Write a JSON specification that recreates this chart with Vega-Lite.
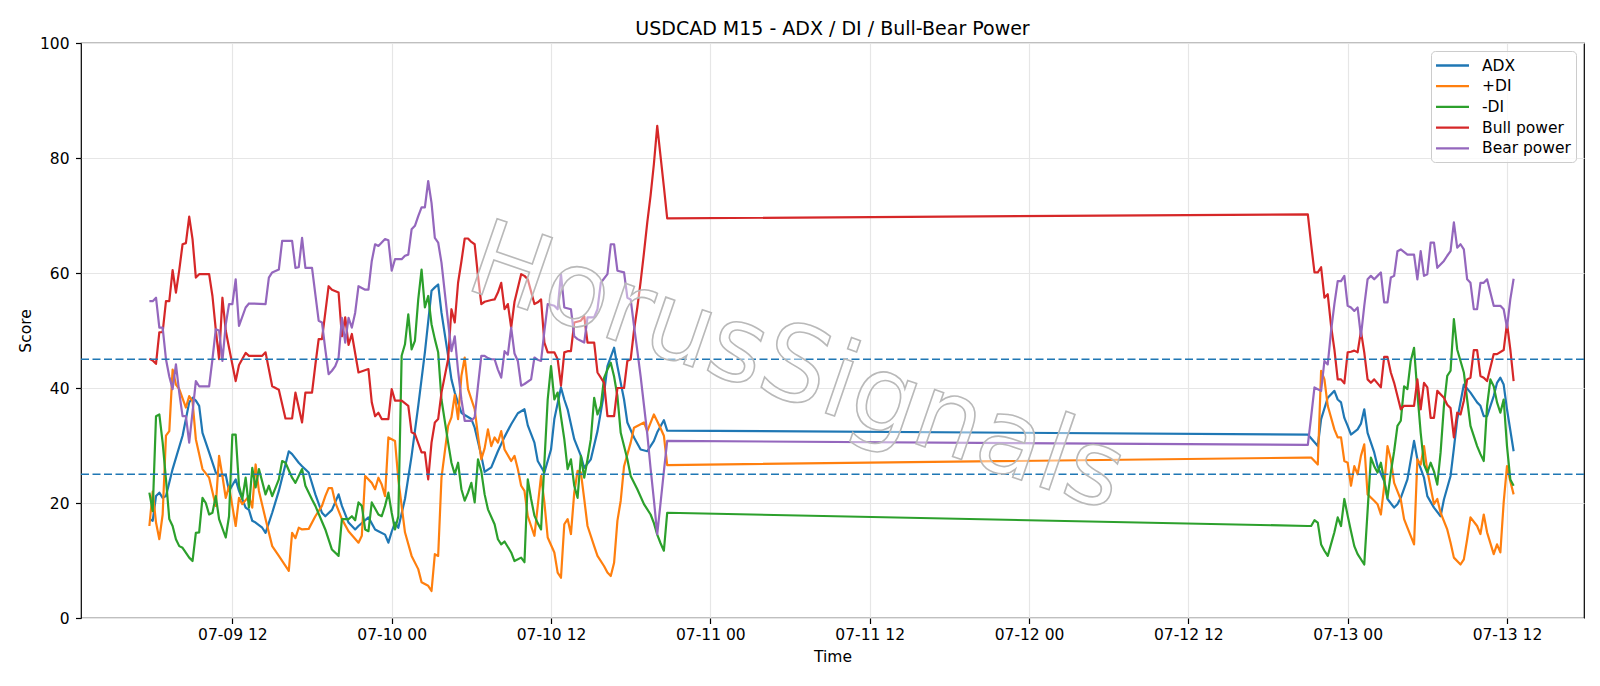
{
"$schema": "https://vega.github.io/schema/vega-lite/v6.json",
"width": 1503,
"height": 575,
"autosize": {"type": "none"},
"padding": {"left": 81, "top": 43, "right": 16, "bottom": 68},
"title": {"text": "USDCAD M15 - ADX / DI / Bull-Bear Power", "fontSize": 19, "font": "DejaVu Sans", "fontWeight": "normal", "color": "#000000", "anchor": "middle", "frame": "group", "baseline": "alphabetic", "offset": -18},
"config": {
  "font": "DejaVu Sans",
  "view": {"stroke": "#000000", "strokeWidth": 1.2},
  "axis": {"labelFont": "DejaVu Sans", "labelFontSize": 15.5, "labelColor": "#000000", "titleFont": "DejaVu Sans", "titleFontSize": 15.5, "titleFontWeight": "normal", "titleColor": "#000000", "tickColor": "#000000", "tickSize": 5.5, "tickWidth": 1.2, "domain": false, "gridColor": "#e6e6e6", "gridWidth": 1.2, "labelFlush": false, "labelOverlap": false},
  "legend": {"labelFont": "DejaVu Sans", "labelFontSize": 15.5, "labelColor": "#000000"}
},
"layer": [
  {
    "data": {"values": [
{"s":"ADX","t":"2025-07-09 05:45","v":17.2},{"s":"ADX","t":"2025-07-09 06:00","v":16.9},{"s":"ADX","t":"2025-07-09 06:15","v":21.2},{"s":"ADX","t":"2025-07-09 06:30","v":21.8},{"s":"ADX","t":"2025-07-09 06:45","v":20.9},{"s":"ADX","t":"2025-07-09 07:00","v":21.2},{"s":"ADX","t":"2025-07-09 07:30","v":25.9},{"s":"ADX","t":"2025-07-09 08:15","v":31.7},{"s":"ADX","t":"2025-07-09 08:45","v":37.5},{"s":"ADX","t":"2025-07-09 09:00","v":38.3},{"s":"ADX","t":"2025-07-09 09:15","v":37.8},{"s":"ADX","t":"2025-07-09 09:30","v":36.9},{"s":"ADX","t":"2025-07-09 09:45","v":32.2},{"s":"ADX","t":"2025-07-09 10:15","v":28.8},{"s":"ADX","t":"2025-07-09 10:45","v":25.3},{"s":"ADX","t":"2025-07-09 11:00","v":24.7},{"s":"ADX","t":"2025-07-09 11:30","v":24.9},{"s":"ADX","t":"2025-07-09 11:45","v":22.1},{"s":"ADX","t":"2025-07-09 12:15","v":24.1},{"s":"ADX","t":"2025-07-09 12:30","v":22.1},{"s":"ADX","t":"2025-07-09 13:00","v":19.2},{"s":"ADX","t":"2025-07-09 13:15","v":18.8},{"s":"ADX","t":"2025-07-09 13:30","v":16.9},{"s":"ADX","t":"2025-07-09 13:45","v":16.6},{"s":"ADX","t":"2025-07-09 14:15","v":15.7},{"s":"ADX","t":"2025-07-09 14:30","v":14.8},{"s":"ADX","t":"2025-07-09 15:00","v":18.3},{"s":"ADX","t":"2025-07-09 15:30","v":22.1},{"s":"ADX","t":"2025-07-09 16:15","v":29},{"s":"ADX","t":"2025-07-09 16:30","v":28.5},{"s":"ADX","t":"2025-07-09 17:00","v":27},{"s":"ADX","t":"2025-07-09 17:15","v":26.4},{"s":"ADX","t":"2025-07-09 17:45","v":25.3},{"s":"ADX","t":"2025-07-09 18:15","v":21.5},{"s":"ADX","t":"2025-07-09 18:45","v":18.3},{"s":"ADX","t":"2025-07-09 19:00","v":17.7},{"s":"ADX","t":"2025-07-09 19:30","v":18.8},{"s":"ADX","t":"2025-07-09 20:00","v":21.5},{"s":"ADX","t":"2025-07-09 20:15","v":19.5},{"s":"ADX","t":"2025-07-09 20:45","v":16.6},{"s":"ADX","t":"2025-07-09 21:15","v":15.4},{"s":"ADX","t":"2025-07-09 21:30","v":16},{"s":"ADX","t":"2025-07-09 22:15","v":17.5},{"s":"ADX","t":"2025-07-09 22:45","v":15.4},{"s":"ADX","t":"2025-07-09 23:00","v":15.1},{"s":"ADX","t":"2025-07-09 23:30","v":14.5},{"s":"ADX","t":"2025-07-09 23:45","v":13.1},
{"s":"ADX","t":"2025-07-10 00:00","v":15},{"s":"ADX","t":"2025-07-10 00:15","v":16.6},{"s":"ADX","t":"2025-07-10 00:30","v":15.7},{"s":"ADX","t":"2025-07-10 01:00","v":20.7},{"s":"ADX","t":"2025-07-10 01:30","v":28.2},{"s":"ADX","t":"2025-07-10 02:00","v":36.9},{"s":"ADX","t":"2025-07-10 02:30","v":46.2},{"s":"ADX","t":"2025-07-10 03:00","v":56.9},{"s":"ADX","t":"2025-07-10 03:15","v":57.5},{"s":"ADX","t":"2025-07-10 03:30","v":58},{"s":"ADX","t":"2025-07-10 03:45","v":53.1},{"s":"ADX","t":"2025-07-10 04:15","v":45.6},{"s":"ADX","t":"2025-07-10 04:30","v":41.5},{"s":"ADX","t":"2025-07-10 04:45","v":39.2},{"s":"ADX","t":"2025-07-10 05:15","v":35.7},{"s":"ADX","t":"2025-07-10 05:30","v":35.3},{"s":"ADX","t":"2025-07-10 06:00","v":34.6},{"s":"ADX","t":"2025-07-10 06:15","v":33.1},{"s":"ADX","t":"2025-07-10 06:45","v":28.2},{"s":"ADX","t":"2025-07-10 07:00","v":25.4},{"s":"ADX","t":"2025-07-10 07:30","v":26.2},{"s":"ADX","t":"2025-07-10 08:00","v":29},{"s":"ADX","t":"2025-07-10 08:30","v":31.5},{"s":"ADX","t":"2025-07-10 09:00","v":33.7},{"s":"ADX","t":"2025-07-10 09:30","v":35.6},{"s":"ADX","t":"2025-07-10 10:00","v":36.3},{"s":"ADX","t":"2025-07-10 10:15","v":33.5},{"s":"ADX","t":"2025-07-10 10:45","v":30.5},{"s":"ADX","t":"2025-07-10 11:00","v":27.3},{"s":"ADX","t":"2025-07-10 11:30","v":25.3},{"s":"ADX","t":"2025-07-10 12:00","v":29.3},{"s":"ADX","t":"2025-07-10 12:15","v":34.6},{"s":"ADX","t":"2025-07-10 12:45","v":40.1},{"s":"ADX","t":"2025-07-10 13:00","v":38},{"s":"ADX","t":"2025-07-10 13:15","v":36.3},{"s":"ADX","t":"2025-07-10 13:45","v":31.1},{"s":"ADX","t":"2025-07-10 14:15","v":28.2},{"s":"ADX","t":"2025-07-10 14:30","v":26.1},{"s":"ADX","t":"2025-07-10 15:00","v":27.6},{"s":"ADX","t":"2025-07-10 15:30","v":32.5},{"s":"ADX","t":"2025-07-10 16:00","v":39.2},{"s":"ADX","t":"2025-07-10 16:15","v":43.8},{"s":"ADX","t":"2025-07-10 16:45","v":47},{"s":"ADX","t":"2025-07-10 17:00","v":43.8},{"s":"ADX","t":"2025-07-10 17:30","v":38},{"s":"ADX","t":"2025-07-10 17:45","v":34},{"s":"ADX","t":"2025-07-10 18:15","v":31.4},{"s":"ADX","t":"2025-07-10 18:45","v":29.3},{"s":"ADX","t":"2025-07-10 19:15","v":29},{"s":"ADX","t":"2025-07-10 19:45","v":30.8},{"s":"ADX","t":"2025-07-10 20:00","v":32.3},{"s":"ADX","t":"2025-07-10 20:30","v":34.4},{"s":"ADX","t":"2025-07-10 20:45","v":32.6},
{"s":"ADX","t":"2025-07-12 21:00","v":31.9},{"s":"ADX","t":"2025-07-12 21:45","v":29.9},{"s":"ADX","t":"2025-07-12 22:00","v":34.6},{"s":"ADX","t":"2025-07-12 22:30","v":38.3},{"s":"ADX","t":"2025-07-12 23:00","v":39.5},{"s":"ADX","t":"2025-07-12 23:15","v":38},{"s":"ADX","t":"2025-07-12 23:30","v":37.5},{"s":"ADX","t":"2025-07-12 23:45","v":34.8},{"s":"ADX","t":"2025-07-13 00:00","v":33.4},{"s":"ADX","t":"2025-07-13 00:15","v":31.9},{"s":"ADX","t":"2025-07-13 00:45","v":32.8},{"s":"ADX","t":"2025-07-13 01:00","v":33.8},{"s":"ADX","t":"2025-07-13 01:15","v":36.3},{"s":"ADX","t":"2025-07-13 01:30","v":32.2},{"s":"ADX","t":"2025-07-13 02:00","v":28.8},{"s":"ADX","t":"2025-07-13 02:15","v":26.4},{"s":"ADX","t":"2025-07-13 02:45","v":23.8},{"s":"ADX","t":"2025-07-13 03:00","v":20.7},{"s":"ADX","t":"2025-07-13 03:30","v":19.2},{"s":"ADX","t":"2025-07-13 03:45","v":19.8},{"s":"ADX","t":"2025-07-13 04:00","v":20.9},{"s":"ADX","t":"2025-07-13 04:30","v":24.1},{"s":"ADX","t":"2025-07-13 05:00","v":30.8},{"s":"ADX","t":"2025-07-13 05:15","v":27.6},{"s":"ADX","t":"2025-07-13 05:45","v":24.4},{"s":"ADX","t":"2025-07-13 06:00","v":21.2},{"s":"ADX","t":"2025-07-13 06:30","v":19.2},{"s":"ADX","t":"2025-07-13 07:00","v":17.7},{"s":"ADX","t":"2025-07-13 07:15","v":20.6},{"s":"ADX","t":"2025-07-13 07:45","v":24.7},{"s":"ADX","t":"2025-07-13 08:00","v":29.5},{"s":"ADX","t":"2025-07-13 08:15","v":34.5},{"s":"ADX","t":"2025-07-13 08:45","v":40.6},{"s":"ADX","t":"2025-07-13 09:15","v":39.2},{"s":"ADX","t":"2025-07-13 09:45","v":37.5},{"s":"ADX","t":"2025-07-13 10:00","v":36.9},{"s":"ADX","t":"2025-07-13 10:15","v":35.1},{"s":"ADX","t":"2025-07-13 10:30","v":35.1},{"s":"ADX","t":"2025-07-13 11:00","v":38.6},{"s":"ADX","t":"2025-07-13 11:15","v":40.9},{"s":"ADX","t":"2025-07-13 11:30","v":41.8},{"s":"ADX","t":"2025-07-13 11:45","v":40.6},{"s":"ADX","t":"2025-07-13 12:00","v":36.3},{"s":"ADX","t":"2025-07-13 12:30","v":29},
{"s":"+DI","t":"2025-07-09 05:45","v":16},{"s":"+DI","t":"2025-07-09 06:00","v":22},{"s":"+DI","t":"2025-07-09 06:15","v":16.6},{"s":"+DI","t":"2025-07-09 06:30","v":13.7},{"s":"+DI","t":"2025-07-09 06:45","v":18},{"s":"+DI","t":"2025-07-09 07:00","v":31.7},{"s":"+DI","t":"2025-07-09 07:15","v":32.5},{"s":"+DI","t":"2025-07-09 07:30","v":43.2},{"s":"+DI","t":"2025-07-09 07:45","v":40.6},{"s":"+DI","t":"2025-07-09 08:00","v":39.8},{"s":"+DI","t":"2025-07-09 08:30","v":36.6},{"s":"+DI","t":"2025-07-09 08:45","v":38.6},{"s":"+DI","t":"2025-07-09 09:00","v":37.7},{"s":"+DI","t":"2025-07-09 09:15","v":31.1},{"s":"+DI","t":"2025-07-09 09:45","v":25.9},{"s":"+DI","t":"2025-07-09 10:15","v":24.4},{"s":"+DI","t":"2025-07-09 10:45","v":19.5},{"s":"+DI","t":"2025-07-09 11:00","v":28.2},{"s":"+DI","t":"2025-07-09 11:15","v":24.7},{"s":"+DI","t":"2025-07-09 11:30","v":20.9},{"s":"+DI","t":"2025-07-09 11:45","v":22.9},{"s":"+DI","t":"2025-07-09 12:15","v":16},{"s":"+DI","t":"2025-07-09 12:30","v":20.9},{"s":"+DI","t":"2025-07-09 12:45","v":19.8},{"s":"+DI","t":"2025-07-09 13:15","v":21.2},{"s":"+DI","t":"2025-07-09 13:30","v":19.2},{"s":"+DI","t":"2025-07-09 13:45","v":26.7},{"s":"+DI","t":"2025-07-09 14:00","v":22.1},{"s":"+DI","t":"2025-07-09 14:30","v":17.2},{"s":"+DI","t":"2025-07-09 15:00","v":12.5},{"s":"+DI","t":"2025-07-09 15:30","v":10.8},{"s":"+DI","t":"2025-07-09 16:15","v":8.2},{"s":"+DI","t":"2025-07-09 16:30","v":14.8},{"s":"+DI","t":"2025-07-09 16:45","v":13.9},{"s":"+DI","t":"2025-07-09 17:00","v":15.7},{"s":"+DI","t":"2025-07-09 17:15","v":15.4},{"s":"+DI","t":"2025-07-09 17:45","v":15.5},{"s":"+DI","t":"2025-07-09 18:15","v":17.7},{"s":"+DI","t":"2025-07-09 18:45","v":19.5},{"s":"+DI","t":"2025-07-09 19:00","v":21.2},{"s":"+DI","t":"2025-07-09 19:15","v":22.6},{"s":"+DI","t":"2025-07-09 19:30","v":22.6},{"s":"+DI","t":"2025-07-09 19:45","v":20.1},{"s":"+DI","t":"2025-07-09 20:15","v":17.2},{"s":"+DI","t":"2025-07-09 20:45","v":15.1},{"s":"+DI","t":"2025-07-09 21:30","v":13.1},{"s":"+DI","t":"2025-07-09 21:45","v":14.3},{"s":"+DI","t":"2025-07-09 22:00","v":24.7},{"s":"+DI","t":"2025-07-09 22:30","v":23.5},{"s":"+DI","t":"2025-07-09 22:45","v":22.4},{"s":"+DI","t":"2025-07-09 23:00","v":24.4},{"s":"+DI","t":"2025-07-09 23:15","v":23.2},{"s":"+DI","t":"2025-07-09 23:30","v":21.2},{"s":"+DI","t":"2025-07-09 23:45","v":31.4},
{"s":"+DI","t":"2025-07-10 00:15","v":30.8},{"s":"+DI","t":"2025-07-10 00:30","v":24.1},{"s":"+DI","t":"2025-07-10 01:00","v":14.9},{"s":"+DI","t":"2025-07-10 01:30","v":10.8},{"s":"+DI","t":"2025-07-10 02:00","v":8.5},{"s":"+DI","t":"2025-07-10 02:15","v":6.2},{"s":"+DI","t":"2025-07-10 02:45","v":5.6},{"s":"+DI","t":"2025-07-10 03:00","v":4.7},{"s":"+DI","t":"2025-07-10 03:15","v":11.1},{"s":"+DI","t":"2025-07-10 03:30","v":10.8},{"s":"+DI","t":"2025-07-10 03:45","v":24.4},{"s":"+DI","t":"2025-07-10 04:15","v":33.4},{"s":"+DI","t":"2025-07-10 04:30","v":34.9},{"s":"+DI","t":"2025-07-10 04:45","v":38.8},{"s":"+DI","t":"2025-07-10 05:00","v":34.6},{"s":"+DI","t":"2025-07-10 05:15","v":42.1},{"s":"+DI","t":"2025-07-10 05:30","v":45.3},{"s":"+DI","t":"2025-07-10 05:45","v":39.8},{"s":"+DI","t":"2025-07-10 06:15","v":36.3},{"s":"+DI","t":"2025-07-10 06:30","v":31.7},{"s":"+DI","t":"2025-07-10 06:45","v":27.6},{"s":"+DI","t":"2025-07-10 07:00","v":29.5},{"s":"+DI","t":"2025-07-10 07:15","v":32.8},{"s":"+DI","t":"2025-07-10 07:30","v":29.9},{"s":"+DI","t":"2025-07-10 07:45","v":31.4},{"s":"+DI","t":"2025-07-10 08:00","v":30.5},{"s":"+DI","t":"2025-07-10 08:15","v":32.5},{"s":"+DI","t":"2025-07-10 08:30","v":29.3},{"s":"+DI","t":"2025-07-10 09:00","v":27.3},{"s":"+DI","t":"2025-07-10 09:15","v":28.2},{"s":"+DI","t":"2025-07-10 09:30","v":25.9},{"s":"+DI","t":"2025-07-10 09:45","v":23},{"s":"+DI","t":"2025-07-10 10:00","v":22.1},{"s":"+DI","t":"2025-07-10 10:15","v":17.7},{"s":"+DI","t":"2025-07-10 10:30","v":16},{"s":"+DI","t":"2025-07-10 10:45","v":14.3},{"s":"+DI","t":"2025-07-10 11:00","v":19.5},{"s":"+DI","t":"2025-07-10 11:15","v":24.7},{"s":"+DI","t":"2025-07-10 11:30","v":20.1},{"s":"+DI","t":"2025-07-10 11:45","v":14},{"s":"+DI","t":"2025-07-10 12:15","v":11.4},{"s":"+DI","t":"2025-07-10 12:30","v":7.9},{"s":"+DI","t":"2025-07-10 12:45","v":7},{"s":"+DI","t":"2025-07-10 13:00","v":16.3},{"s":"+DI","t":"2025-07-10 13:15","v":17.2},{"s":"+DI","t":"2025-07-10 13:30","v":14.6},{"s":"+DI","t":"2025-07-10 13:45","v":21.8},{"s":"+DI","t":"2025-07-10 14:00","v":25.6},{"s":"+DI","t":"2025-07-10 14:15","v":25.3},{"s":"+DI","t":"2025-07-10 14:30","v":20.7},{"s":"+DI","t":"2025-07-10 14:45","v":16},{"s":"+DI","t":"2025-07-10 15:15","v":12.5},{"s":"+DI","t":"2025-07-10 15:30","v":10.8},{"s":"+DI","t":"2025-07-10 16:00","v":9},{"s":"+DI","t":"2025-07-10 16:15","v":7.9},{"s":"+DI","t":"2025-07-10 16:30","v":7.3},{"s":"+DI","t":"2025-07-10 16:45","v":9.6},{"s":"+DI","t":"2025-07-10 17:00","v":16.9},{"s":"+DI","t":"2025-07-10 17:15","v":20.4},{"s":"+DI","t":"2025-07-10 17:30","v":26.4},{"s":"+DI","t":"2025-07-10 18:00","v":30.5},{"s":"+DI","t":"2025-07-10 18:15","v":33.1},{"s":"+DI","t":"2025-07-10 18:45","v":33.7},{"s":"+DI","t":"2025-07-10 19:00","v":34},{"s":"+DI","t":"2025-07-10 19:15","v":32.5},{"s":"+DI","t":"2025-07-10 19:45","v":35.4},{"s":"+DI","t":"2025-07-10 20:00","v":34.2},{"s":"+DI","t":"2025-07-10 20:15","v":33},{"s":"+DI","t":"2025-07-10 20:30","v":31.7},{"s":"+DI","t":"2025-07-10 20:45","v":26.6},
{"s":"+DI","t":"2025-07-12 21:00","v":27.9},{"s":"+DI","t":"2025-07-12 21:15","v":27.9},{"s":"+DI","t":"2025-07-12 21:45","v":26.7},{"s":"+DI","t":"2025-07-12 22:00","v":43},{"s":"+DI","t":"2025-07-12 22:15","v":41.5},{"s":"+DI","t":"2025-07-12 22:30","v":36.9},{"s":"+DI","t":"2025-07-12 23:00","v":32.8},{"s":"+DI","t":"2025-07-12 23:15","v":31.4},{"s":"+DI","t":"2025-07-12 23:30","v":31.4},{"s":"+DI","t":"2025-07-12 23:45","v":27.3},{"s":"+DI","t":"2025-07-13 00:00","v":27},{"s":"+DI","t":"2025-07-13 00:15","v":23},{"s":"+DI","t":"2025-07-13 00:30","v":26.4},{"s":"+DI","t":"2025-07-13 00:45","v":25},{"s":"+DI","t":"2025-07-13 01:00","v":28.2},{"s":"+DI","t":"2025-07-13 01:15","v":30.2},{"s":"+DI","t":"2025-07-13 01:30","v":21.5},{"s":"+DI","t":"2025-07-13 02:00","v":20.4},{"s":"+DI","t":"2025-07-13 02:15","v":19.8},{"s":"+DI","t":"2025-07-13 02:30","v":18},{"s":"+DI","t":"2025-07-13 02:45","v":22.9},{"s":"+DI","t":"2025-07-13 03:00","v":29.9},{"s":"+DI","t":"2025-07-13 03:15","v":27.6},{"s":"+DI","t":"2025-07-13 03:30","v":23.5},{"s":"+DI","t":"2025-07-13 04:00","v":20.6},{"s":"+DI","t":"2025-07-13 04:15","v":17.2},{"s":"+DI","t":"2025-07-13 04:30","v":15.7},{"s":"+DI","t":"2025-07-13 05:00","v":12.8},{"s":"+DI","t":"2025-07-13 05:15","v":27.6},{"s":"+DI","t":"2025-07-13 05:30","v":26.7},{"s":"+DI","t":"2025-07-13 05:45","v":29.9},{"s":"+DI","t":"2025-07-13 06:00","v":25.6},{"s":"+DI","t":"2025-07-13 06:15","v":22.7},{"s":"+DI","t":"2025-07-13 06:30","v":19.8},{"s":"+DI","t":"2025-07-13 06:45","v":20.7},{"s":"+DI","t":"2025-07-13 07:00","v":18.3},{"s":"+DI","t":"2025-07-13 07:30","v":15.4},{"s":"+DI","t":"2025-07-13 07:45","v":13.1},{"s":"+DI","t":"2025-07-13 08:00","v":10.5},{"s":"+DI","t":"2025-07-13 08:30","v":9.3},{"s":"+DI","t":"2025-07-13 08:45","v":10.2},{"s":"+DI","t":"2025-07-13 09:00","v":13.7},{"s":"+DI","t":"2025-07-13 09:15","v":17.5},{"s":"+DI","t":"2025-07-13 09:45","v":16},{"s":"+DI","t":"2025-07-13 10:00","v":14.6},{"s":"+DI","t":"2025-07-13 10:15","v":18},{"s":"+DI","t":"2025-07-13 10:30","v":14.9},{"s":"+DI","t":"2025-07-13 11:00","v":11.1},{"s":"+DI","t":"2025-07-13 11:15","v":12.8},{"s":"+DI","t":"2025-07-13 11:30","v":11.4},{"s":"+DI","t":"2025-07-13 11:45","v":20.1},{"s":"+DI","t":"2025-07-13 12:00","v":26.4},{"s":"+DI","t":"2025-07-13 12:15","v":23.8},{"s":"+DI","t":"2025-07-13 12:30","v":21.5},
{"s":"-DI","t":"2025-07-09 05:45","v":21.8},{"s":"-DI","t":"2025-07-09 06:00","v":18.6},{"s":"-DI","t":"2025-07-09 06:15","v":35.1},{"s":"-DI","t":"2025-07-09 06:30","v":35.4},{"s":"-DI","t":"2025-07-09 06:45","v":30.5},{"s":"-DI","t":"2025-07-09 07:00","v":24.1},{"s":"-DI","t":"2025-07-09 07:15","v":17.2},{"s":"-DI","t":"2025-07-09 07:30","v":16},{"s":"-DI","t":"2025-07-09 07:45","v":13.7},{"s":"-DI","t":"2025-07-09 08:00","v":12.5},{"s":"-DI","t":"2025-07-09 08:15","v":12.2},{"s":"-DI","t":"2025-07-09 08:45","v":10.5},{"s":"-DI","t":"2025-07-09 09:00","v":9.9},{"s":"-DI","t":"2025-07-09 09:15","v":14.8},{"s":"-DI","t":"2025-07-09 09:30","v":14.9},{"s":"-DI","t":"2025-07-09 09:45","v":20.9},{"s":"-DI","t":"2025-07-09 10:00","v":20},{"s":"-DI","t":"2025-07-09 10:15","v":18},{"s":"-DI","t":"2025-07-09 10:30","v":18.3},{"s":"-DI","t":"2025-07-09 10:45","v":21.2},{"s":"-DI","t":"2025-07-09 11:00","v":17.2},{"s":"-DI","t":"2025-07-09 11:30","v":14},{"s":"-DI","t":"2025-07-09 11:45","v":17.7},{"s":"-DI","t":"2025-07-09 12:00","v":31.9},{"s":"-DI","t":"2025-07-09 12:15","v":31.9},{"s":"-DI","t":"2025-07-09 12:30","v":23},{"s":"-DI","t":"2025-07-09 12:45","v":20.7},{"s":"-DI","t":"2025-07-09 13:00","v":24.4},{"s":"-DI","t":"2025-07-09 13:15","v":19.2},{"s":"-DI","t":"2025-07-09 13:30","v":26.1},{"s":"-DI","t":"2025-07-09 13:45","v":22.7},{"s":"-DI","t":"2025-07-09 14:00","v":25.9},{"s":"-DI","t":"2025-07-09 14:30","v":21.5},{"s":"-DI","t":"2025-07-09 14:45","v":23},{"s":"-DI","t":"2025-07-09 15:00","v":21.2},{"s":"-DI","t":"2025-07-09 15:30","v":24.1},{"s":"-DI","t":"2025-07-09 15:45","v":27.3},{"s":"-DI","t":"2025-07-09 16:00","v":27},{"s":"-DI","t":"2025-07-09 16:30","v":24.4},{"s":"-DI","t":"2025-07-09 16:45","v":23.5},{"s":"-DI","t":"2025-07-09 17:15","v":25.9},{"s":"-DI","t":"2025-07-09 17:30","v":23},{"s":"-DI","t":"2025-07-09 18:00","v":20.6},{"s":"-DI","t":"2025-07-09 18:15","v":19.5},{"s":"-DI","t":"2025-07-09 19:00","v":15.4},{"s":"-DI","t":"2025-07-09 19:30","v":11.9},{"s":"-DI","t":"2025-07-09 20:00","v":10.8},{"s":"-DI","t":"2025-07-09 20:15","v":17.2},{"s":"-DI","t":"2025-07-09 20:45","v":17.2},{"s":"-DI","t":"2025-07-09 21:00","v":17.7},{"s":"-DI","t":"2025-07-09 21:15","v":17},{"s":"-DI","t":"2025-07-09 21:30","v":20.1},{"s":"-DI","t":"2025-07-09 21:45","v":19.5},{"s":"-DI","t":"2025-07-09 22:00","v":15.4},{"s":"-DI","t":"2025-07-09 22:15","v":15.1},{"s":"-DI","t":"2025-07-09 22:30","v":20.1},{"s":"-DI","t":"2025-07-09 23:00","v":18},{"s":"-DI","t":"2025-07-09 23:15","v":17.7},{"s":"-DI","t":"2025-07-09 23:30","v":19.5},{"s":"-DI","t":"2025-07-09 23:45","v":21.8},
{"s":"-DI","t":"2025-07-10 00:00","v":18.3},{"s":"-DI","t":"2025-07-10 00:15","v":15.4},{"s":"-DI","t":"2025-07-10 00:30","v":17.7},{"s":"-DI","t":"2025-07-10 00:45","v":45.6},{"s":"-DI","t":"2025-07-10 01:00","v":47.6},{"s":"-DI","t":"2025-07-10 01:15","v":52.8},{"s":"-DI","t":"2025-07-10 01:30","v":46.7},{"s":"-DI","t":"2025-07-10 01:45","v":48.2},{"s":"-DI","t":"2025-07-10 02:00","v":55.4},{"s":"-DI","t":"2025-07-10 02:15","v":60.6},{"s":"-DI","t":"2025-07-10 02:30","v":54},{"s":"-DI","t":"2025-07-10 02:45","v":56},{"s":"-DI","t":"2025-07-10 03:00","v":51.1},{"s":"-DI","t":"2025-07-10 03:15","v":48.5},{"s":"-DI","t":"2025-07-10 03:30","v":46.2},{"s":"-DI","t":"2025-07-10 03:45","v":38},{"s":"-DI","t":"2025-07-10 04:15","v":30.5},{"s":"-DI","t":"2025-07-10 04:30","v":27},{"s":"-DI","t":"2025-07-10 04:45","v":25},{"s":"-DI","t":"2025-07-10 05:00","v":27},{"s":"-DI","t":"2025-07-10 05:15","v":22.4},{"s":"-DI","t":"2025-07-10 05:30","v":20.4},{"s":"-DI","t":"2025-07-10 05:45","v":21.8},{"s":"-DI","t":"2025-07-10 06:00","v":23.5},{"s":"-DI","t":"2025-07-10 06:15","v":20.1},{"s":"-DI","t":"2025-07-10 06:30","v":27.6},{"s":"-DI","t":"2025-07-10 06:45","v":25.5},{"s":"-DI","t":"2025-07-10 07:00","v":21.5},{"s":"-DI","t":"2025-07-10 07:15","v":18.9},{"s":"-DI","t":"2025-07-10 07:45","v":16.3},{"s":"-DI","t":"2025-07-10 08:00","v":13.7},{"s":"-DI","t":"2025-07-10 08:15","v":12.8},{"s":"-DI","t":"2025-07-10 08:30","v":13.3},{"s":"-DI","t":"2025-07-10 09:00","v":11.4},{"s":"-DI","t":"2025-07-10 09:15","v":9.9},{"s":"-DI","t":"2025-07-10 09:45","v":10.5},{"s":"-DI","t":"2025-07-10 10:00","v":9.7},{"s":"-DI","t":"2025-07-10 10:15","v":24.1},{"s":"-DI","t":"2025-07-10 10:30","v":20.7},{"s":"-DI","t":"2025-07-10 10:45","v":17.8},{"s":"-DI","t":"2025-07-10 11:00","v":16.5},{"s":"-DI","t":"2025-07-10 11:15","v":15.4},{"s":"-DI","t":"2025-07-10 11:30","v":27},{"s":"-DI","t":"2025-07-10 11:45","v":38},{"s":"-DI","t":"2025-07-10 12:00","v":43.8},{"s":"-DI","t":"2025-07-10 12:15","v":38},{"s":"-DI","t":"2025-07-10 12:30","v":39.2},{"s":"-DI","t":"2025-07-10 12:45","v":35},{"s":"-DI","t":"2025-07-10 13:00","v":31.1},{"s":"-DI","t":"2025-07-10 13:15","v":25.9},{"s":"-DI","t":"2025-07-10 13:30","v":27.6},{"s":"-DI","t":"2025-07-10 13:45","v":23},{"s":"-DI","t":"2025-07-10 14:00","v":20.9},{"s":"-DI","t":"2025-07-10 14:15","v":28.2},{"s":"-DI","t":"2025-07-10 14:30","v":24.4},{"s":"-DI","t":"2025-07-10 14:45","v":27.6},{"s":"-DI","t":"2025-07-10 15:00","v":31.1},{"s":"-DI","t":"2025-07-10 15:15","v":38.3},{"s":"-DI","t":"2025-07-10 15:30","v":35.4},{"s":"-DI","t":"2025-07-10 15:45","v":36.9},{"s":"-DI","t":"2025-07-10 16:00","v":41.8},{"s":"-DI","t":"2025-07-10 16:15","v":43.2},{"s":"-DI","t":"2025-07-10 16:30","v":44.4},{"s":"-DI","t":"2025-07-10 16:45","v":42},{"s":"-DI","t":"2025-07-10 17:00","v":38.6},{"s":"-DI","t":"2025-07-10 17:15","v":32.2},{"s":"-DI","t":"2025-07-10 17:45","v":27.6},{"s":"-DI","t":"2025-07-10 18:00","v":24.7},{"s":"-DI","t":"2025-07-10 18:30","v":22.4},{"s":"-DI","t":"2025-07-10 19:00","v":19.8},{"s":"-DI","t":"2025-07-10 19:30","v":18},{"s":"-DI","t":"2025-07-10 19:45","v":16.5},{"s":"-DI","t":"2025-07-10 20:00","v":14.5},{"s":"-DI","t":"2025-07-10 20:15","v":13},{"s":"-DI","t":"2025-07-10 20:30","v":11.7},{"s":"-DI","t":"2025-07-10 20:45","v":18.3},
{"s":"-DI","t":"2025-07-12 21:00","v":16},{"s":"-DI","t":"2025-07-12 21:15","v":16},{"s":"-DI","t":"2025-07-12 21:30","v":17},{"s":"-DI","t":"2025-07-12 21:45","v":16.6},{"s":"-DI","t":"2025-07-12 22:00","v":12.8},{"s":"-DI","t":"2025-07-12 22:15","v":11.7},{"s":"-DI","t":"2025-07-12 22:30","v":10.8},{"s":"-DI","t":"2025-07-12 23:00","v":14.9},{"s":"-DI","t":"2025-07-12 23:15","v":17.5},{"s":"-DI","t":"2025-07-12 23:30","v":16},{"s":"-DI","t":"2025-07-12 23:45","v":20.7},{"s":"-DI","t":"2025-07-13 00:00","v":17.8},{"s":"-DI","t":"2025-07-13 00:15","v":15.1},{"s":"-DI","t":"2025-07-13 00:30","v":12.5},{"s":"-DI","t":"2025-07-13 00:45","v":11.1},{"s":"-DI","t":"2025-07-13 01:15","v":9.3},{"s":"-DI","t":"2025-07-13 01:45","v":27.9},{"s":"-DI","t":"2025-07-13 02:00","v":26.4},{"s":"-DI","t":"2025-07-13 02:15","v":25.3},{"s":"-DI","t":"2025-07-13 02:30","v":27},{"s":"-DI","t":"2025-07-13 02:45","v":24},{"s":"-DI","t":"2025-07-13 03:00","v":20.9},{"s":"-DI","t":"2025-07-13 03:15","v":25.3},{"s":"-DI","t":"2025-07-13 03:30","v":29},{"s":"-DI","t":"2025-07-13 03:45","v":33.4},{"s":"-DI","t":"2025-07-13 04:00","v":34.3},{"s":"-DI","t":"2025-07-13 04:15","v":40.3},{"s":"-DI","t":"2025-07-13 04:30","v":39.8},{"s":"-DI","t":"2025-07-13 04:45","v":44.7},{"s":"-DI","t":"2025-07-13 05:00","v":47},{"s":"-DI","t":"2025-07-13 05:15","v":39.2},{"s":"-DI","t":"2025-07-13 05:30","v":32.2},{"s":"-DI","t":"2025-07-13 05:45","v":26.7},{"s":"-DI","t":"2025-07-13 06:00","v":25.3},{"s":"-DI","t":"2025-07-13 06:15","v":27},{"s":"-DI","t":"2025-07-13 06:30","v":25.5},{"s":"-DI","t":"2025-07-13 06:45","v":23.2},{"s":"-DI","t":"2025-07-13 07:00","v":28.8},{"s":"-DI","t":"2025-07-13 07:15","v":36.9},{"s":"-DI","t":"2025-07-13 07:30","v":42.1},{"s":"-DI","t":"2025-07-13 07:45","v":43},{"s":"-DI","t":"2025-07-13 08:00","v":52},{"s":"-DI","t":"2025-07-13 08:15","v":46.7},{"s":"-DI","t":"2025-07-13 08:45","v":42.7},{"s":"-DI","t":"2025-07-13 09:00","v":38},{"s":"-DI","t":"2025-07-13 09:15","v":33.4},{"s":"-DI","t":"2025-07-13 09:45","v":29.9},{"s":"-DI","t":"2025-07-13 10:00","v":28.5},{"s":"-DI","t":"2025-07-13 10:15","v":27.3},{"s":"-DI","t":"2025-07-13 10:30","v":36.9},{"s":"-DI","t":"2025-07-13 10:45","v":41.5},{"s":"-DI","t":"2025-07-13 11:00","v":40.3},{"s":"-DI","t":"2025-07-13 11:15","v":37.5},{"s":"-DI","t":"2025-07-13 11:30","v":35.7},{"s":"-DI","t":"2025-07-13 11:45","v":38},{"s":"-DI","t":"2025-07-13 12:00","v":29.9},{"s":"-DI","t":"2025-07-13 12:15","v":24.1},{"s":"-DI","t":"2025-07-13 12:30","v":23},
{"s":"Bull power","t":"2025-07-09 05:45","v":45.1},{"s":"Bull power","t":"2025-07-09 06:00","v":44.8},{"s":"Bull power","t":"2025-07-09 06:15","v":44.2},{"s":"Bull power","t":"2025-07-09 06:30","v":49.7},{"s":"Bull power","t":"2025-07-09 06:45","v":49.7},{"s":"Bull power","t":"2025-07-09 07:00","v":55.1},{"s":"Bull power","t":"2025-07-09 07:15","v":55.1},{"s":"Bull power","t":"2025-07-09 07:30","v":60.5},{"s":"Bull power","t":"2025-07-09 07:45","v":56.6},{"s":"Bull power","t":"2025-07-09 08:00","v":60.5},{"s":"Bull power","t":"2025-07-09 08:15","v":65},{"s":"Bull power","t":"2025-07-09 08:30","v":65.2},{"s":"Bull power","t":"2025-07-09 08:45","v":69.8},{"s":"Bull power","t":"2025-07-09 09:00","v":65.9},{"s":"Bull power","t":"2025-07-09 09:15","v":59.2},{"s":"Bull power","t":"2025-07-09 09:30","v":59.8},{"s":"Bull power","t":"2025-07-09 10:15","v":59.8},{"s":"Bull power","t":"2025-07-09 10:30","v":56},{"s":"Bull power","t":"2025-07-09 10:45","v":50.2},{"s":"Bull power","t":"2025-07-09 11:00","v":45},{"s":"Bull power","t":"2025-07-09 11:15","v":55.7},{"s":"Bull power","t":"2025-07-09 11:30","v":50},{"s":"Bull power","t":"2025-07-09 11:45","v":47},{"s":"Bull power","t":"2025-07-09 12:15","v":41.2},{"s":"Bull power","t":"2025-07-09 12:30","v":44},{"s":"Bull power","t":"2025-07-09 13:00","v":46.1},{"s":"Bull power","t":"2025-07-09 13:15","v":45.6},{"s":"Bull power","t":"2025-07-09 14:15","v":45.6},{"s":"Bull power","t":"2025-07-09 14:30","v":46.2},{"s":"Bull power","t":"2025-07-09 15:00","v":40.3},{"s":"Bull power","t":"2025-07-09 15:30","v":39.7},{"s":"Bull power","t":"2025-07-09 16:00","v":34.7},{"s":"Bull power","t":"2025-07-09 16:30","v":34.7},{"s":"Bull power","t":"2025-07-09 16:45","v":39.2},{"s":"Bull power","t":"2025-07-09 17:15","v":34},{"s":"Bull power","t":"2025-07-09 17:30","v":39.2},{"s":"Bull power","t":"2025-07-09 18:00","v":39.2},{"s":"Bull power","t":"2025-07-09 18:15","v":44},{"s":"Bull power","t":"2025-07-09 18:30","v":48.5},{"s":"Bull power","t":"2025-07-09 18:45","v":48.5},{"s":"Bull power","t":"2025-07-09 19:15","v":57.7},{"s":"Bull power","t":"2025-07-09 19:30","v":57.1},{"s":"Bull power","t":"2025-07-09 20:00","v":56.6},{"s":"Bull power","t":"2025-07-09 20:15","v":49},{"s":"Bull power","t":"2025-07-09 20:30","v":52.3},{"s":"Bull power","t":"2025-07-09 20:45","v":47.5},{"s":"Bull power","t":"2025-07-09 21:00","v":49.4},{"s":"Bull power","t":"2025-07-09 21:30","v":42.7},{"s":"Bull power","t":"2025-07-09 22:15","v":43.3},{"s":"Bull power","t":"2025-07-09 22:30","v":37.5},{"s":"Bull power","t":"2025-07-09 22:45","v":35.1},{"s":"Bull power","t":"2025-07-09 23:00","v":35.7},{"s":"Bull power","t":"2025-07-09 23:15","v":34.6},{"s":"Bull power","t":"2025-07-09 23:45","v":34.6},
{"s":"Bull power","t":"2025-07-10 00:00","v":39.8},{"s":"Bull power","t":"2025-07-10 00:15","v":37.8},{"s":"Bull power","t":"2025-07-10 00:45","v":37.8},{"s":"Bull power","t":"2025-07-10 01:15","v":36.9},{"s":"Bull power","t":"2025-07-10 01:30","v":32.3},{"s":"Bull power","t":"2025-07-10 01:45","v":32},{"s":"Bull power","t":"2025-07-10 02:15","v":28.8},{"s":"Bull power","t":"2025-07-10 02:30","v":28.8},{"s":"Bull power","t":"2025-07-10 02:45","v":24.1},{"s":"Bull power","t":"2025-07-10 03:00","v":30.5},{"s":"Bull power","t":"2025-07-10 03:15","v":34},{"s":"Bull power","t":"2025-07-10 03:30","v":34.6},{"s":"Bull power","t":"2025-07-10 03:45","v":39.2},{"s":"Bull power","t":"2025-07-10 04:15","v":45},{"s":"Bull power","t":"2025-07-10 04:30","v":53.7},{"s":"Bull power","t":"2025-07-10 04:45","v":51.4},{"s":"Bull power","t":"2025-07-10 05:00","v":58.3},{"s":"Bull power","t":"2025-07-10 05:15","v":62},{"s":"Bull power","t":"2025-07-10 05:30","v":66},{"s":"Bull power","t":"2025-07-10 05:45","v":66},{"s":"Bull power","t":"2025-07-10 06:00","v":65.4},{"s":"Bull power","t":"2025-07-10 06:15","v":65},{"s":"Bull power","t":"2025-07-10 06:30","v":59.5},{"s":"Bull power","t":"2025-07-10 06:45","v":54.6},{"s":"Bull power","t":"2025-07-10 07:00","v":55},{"s":"Bull power","t":"2025-07-10 07:30","v":55.3},{"s":"Bull power","t":"2025-07-10 07:45","v":55.4},{"s":"Bull power","t":"2025-07-10 08:00","v":56.6},{"s":"Bull power","t":"2025-07-10 08:15","v":58.3},{"s":"Bull power","t":"2025-07-10 08:30","v":53.7},{"s":"Bull power","t":"2025-07-10 08:45","v":54.6},{"s":"Bull power","t":"2025-07-10 09:00","v":50.5},{"s":"Bull power","t":"2025-07-10 09:15","v":55},{"s":"Bull power","t":"2025-07-10 09:45","v":59.8},{"s":"Bull power","t":"2025-07-10 10:00","v":59.5},{"s":"Bull power","t":"2025-07-10 10:15","v":58.9},{"s":"Bull power","t":"2025-07-10 10:45","v":54.6},{"s":"Bull power","t":"2025-07-10 11:00","v":54.9},{"s":"Bull power","t":"2025-07-10 11:15","v":55.4},{"s":"Bull power","t":"2025-07-10 11:30","v":47.9},{"s":"Bull power","t":"2025-07-10 11:45","v":46.2},{"s":"Bull power","t":"2025-07-10 12:15","v":46.2},{"s":"Bull power","t":"2025-07-10 12:30","v":45},{"s":"Bull power","t":"2025-07-10 12:45","v":40.4},{"s":"Bull power","t":"2025-07-10 13:00","v":46.2},{"s":"Bull power","t":"2025-07-10 13:15","v":46.4},{"s":"Bull power","t":"2025-07-10 13:30","v":46.4},{"s":"Bull power","t":"2025-07-10 13:45","v":51.4},{"s":"Bull power","t":"2025-07-10 14:15","v":51.7},{"s":"Bull power","t":"2025-07-10 14:30","v":52.5},{"s":"Bull power","t":"2025-07-10 14:45","v":47.9},{"s":"Bull power","t":"2025-07-10 15:15","v":47.9},{"s":"Bull power","t":"2025-07-10 15:30","v":42.7},{"s":"Bull power","t":"2025-07-10 16:00","v":40.9},{"s":"Bull power","t":"2025-07-10 16:15","v":35.1},{"s":"Bull power","t":"2025-07-10 16:45","v":35.1},{"s":"Bull power","t":"2025-07-10 17:00","v":40},{"s":"Bull power","t":"2025-07-10 17:30","v":40},{"s":"Bull power","t":"2025-07-10 17:45","v":44.7},{"s":"Bull power","t":"2025-07-10 18:00","v":45},{"s":"Bull power","t":"2025-07-10 18:15","v":50},{"s":"Bull power","t":"2025-07-10 18:30","v":54},{"s":"Bull power","t":"2025-07-10 18:45","v":58.5},{"s":"Bull power","t":"2025-07-10 19:00","v":63.5},{"s":"Bull power","t":"2025-07-10 19:15","v":68.8},{"s":"Bull power","t":"2025-07-10 19:30","v":73.5},{"s":"Bull power","t":"2025-07-10 19:45","v":79},{"s":"Bull power","t":"2025-07-10 20:00","v":85.6},{"s":"Bull power","t":"2025-07-10 20:15","v":80.3},{"s":"Bull power","t":"2025-07-10 20:30","v":75},{"s":"Bull power","t":"2025-07-10 20:45","v":69.5},
{"s":"Bull power","t":"2025-07-12 21:00","v":70.2},{"s":"Bull power","t":"2025-07-12 21:15","v":65},{"s":"Bull power","t":"2025-07-12 21:30","v":60.1},{"s":"Bull power","t":"2025-07-12 21:45","v":60.1},{"s":"Bull power","t":"2025-07-12 22:00","v":61},{"s":"Bull power","t":"2025-07-12 22:15","v":55.7},{"s":"Bull power","t":"2025-07-12 22:30","v":56.3},{"s":"Bull power","t":"2025-07-12 22:45","v":50.8},{"s":"Bull power","t":"2025-07-12 23:00","v":46.7},{"s":"Bull power","t":"2025-07-12 23:15","v":41.5},{"s":"Bull power","t":"2025-07-12 23:30","v":41.5},{"s":"Bull power","t":"2025-07-12 23:45","v":40.8},{"s":"Bull power","t":"2025-07-13 00:00","v":46.2},{"s":"Bull power","t":"2025-07-13 00:15","v":46.3},{"s":"Bull power","t":"2025-07-13 00:30","v":46.5},{"s":"Bull power","t":"2025-07-13 00:45","v":46.2},{"s":"Bull power","t":"2025-07-13 01:00","v":49.9},{"s":"Bull power","t":"2025-07-13 01:15","v":46.2},{"s":"Bull power","t":"2025-07-13 01:30","v":41.5},{"s":"Bull power","t":"2025-07-13 01:45","v":40.9},{"s":"Bull power","t":"2025-07-13 02:00","v":41.5},{"s":"Bull power","t":"2025-07-13 02:15","v":40.8},{"s":"Bull power","t":"2025-07-13 02:30","v":40.1},{"s":"Bull power","t":"2025-07-13 02:45","v":45.4},{"s":"Bull power","t":"2025-07-13 03:00","v":45.4},{"s":"Bull power","t":"2025-07-13 03:15","v":42.7},{"s":"Bull power","t":"2025-07-13 03:30","v":40.9},{"s":"Bull power","t":"2025-07-13 04:00","v":36.3},{"s":"Bull power","t":"2025-07-13 04:15","v":36.9},{"s":"Bull power","t":"2025-07-13 04:45","v":36.9},{"s":"Bull power","t":"2025-07-13 05:00","v":36.9},{"s":"Bull power","t":"2025-07-13 05:15","v":41.5},{"s":"Bull power","t":"2025-07-13 05:30","v":36.3},{"s":"Bull power","t":"2025-07-13 05:45","v":40.9},{"s":"Bull power","t":"2025-07-13 06:00","v":40.1},{"s":"Bull power","t":"2025-07-13 06:15","v":34.8},{"s":"Bull power","t":"2025-07-13 06:30","v":34.8},{"s":"Bull power","t":"2025-07-13 06:45","v":39.5},{"s":"Bull power","t":"2025-07-13 07:15","v":38.3},{"s":"Bull power","t":"2025-07-13 07:30","v":37.1},{"s":"Bull power","t":"2025-07-13 07:45","v":36.5},{"s":"Bull power","t":"2025-07-13 08:00","v":31.4},{"s":"Bull power","t":"2025-07-13 08:15","v":35.7},{"s":"Bull power","t":"2025-07-13 08:30","v":35.4},{"s":"Bull power","t":"2025-07-13 08:45","v":37.8},{"s":"Bull power","t":"2025-07-13 09:00","v":41.5},{"s":"Bull power","t":"2025-07-13 09:15","v":41.8},{"s":"Bull power","t":"2025-07-13 09:30","v":46.6},{"s":"Bull power","t":"2025-07-13 09:45","v":46.6},{"s":"Bull power","t":"2025-07-13 10:00","v":42.1},{"s":"Bull power","t":"2025-07-13 10:15","v":41.8},{"s":"Bull power","t":"2025-07-13 10:30","v":41.2},{"s":"Bull power","t":"2025-07-13 11:00","v":45.9},{"s":"Bull power","t":"2025-07-13 11:15","v":45.9},{"s":"Bull power","t":"2025-07-13 11:45","v":46.6},{"s":"Bull power","t":"2025-07-13 12:00","v":51.3},{"s":"Bull power","t":"2025-07-13 12:15","v":46.7},{"s":"Bull power","t":"2025-07-13 12:30","v":41.2},
{"s":"Bear power","t":"2025-07-09 05:45","v":55.1},{"s":"Bear power","t":"2025-07-09 06:00","v":55.1},{"s":"Bear power","t":"2025-07-09 06:15","v":55.7},{"s":"Bear power","t":"2025-07-09 06:30","v":50.5},{"s":"Bear power","t":"2025-07-09 06:45","v":50.5},{"s":"Bear power","t":"2025-07-09 07:00","v":45},{"s":"Bear power","t":"2025-07-09 07:15","v":42},{"s":"Bear power","t":"2025-07-09 07:30","v":39.8},{"s":"Bear power","t":"2025-07-09 07:45","v":44.1},{"s":"Bear power","t":"2025-07-09 08:00","v":39.2},{"s":"Bear power","t":"2025-07-09 08:15","v":35.1},{"s":"Bear power","t":"2025-07-09 08:30","v":35.1},{"s":"Bear power","t":"2025-07-09 08:45","v":30.5},{"s":"Bear power","t":"2025-07-09 09:00","v":35.8},{"s":"Bear power","t":"2025-07-09 09:15","v":41.2},{"s":"Bear power","t":"2025-07-09 09:30","v":40.3},{"s":"Bear power","t":"2025-07-09 10:15","v":40.3},{"s":"Bear power","t":"2025-07-09 10:30","v":45},{"s":"Bear power","t":"2025-07-09 10:45","v":50.2},{"s":"Bear power","t":"2025-07-09 11:00","v":50},{"s":"Bear power","t":"2025-07-09 11:15","v":44.7},{"s":"Bear power","t":"2025-07-09 11:30","v":51},{"s":"Bear power","t":"2025-07-09 11:45","v":54.6},{"s":"Bear power","t":"2025-07-09 12:00","v":54.6},{"s":"Bear power","t":"2025-07-09 12:15","v":58.9},{"s":"Bear power","t":"2025-07-09 12:30","v":50.8},{"s":"Bear power","t":"2025-07-09 13:00","v":54},{"s":"Bear power","t":"2025-07-09 13:15","v":54.7},{"s":"Bear power","t":"2025-07-09 14:30","v":54.6},{"s":"Bear power","t":"2025-07-09 14:45","v":59.2},{"s":"Bear power","t":"2025-07-09 15:00","v":60.1},{"s":"Bear power","t":"2025-07-09 15:30","v":60.6},{"s":"Bear power","t":"2025-07-09 15:45","v":65.6},{"s":"Bear power","t":"2025-07-09 16:30","v":65.6},{"s":"Bear power","t":"2025-07-09 16:45","v":60.9},{"s":"Bear power","t":"2025-07-09 17:00","v":61},{"s":"Bear power","t":"2025-07-09 17:15","v":66.1},{"s":"Bear power","t":"2025-07-09 17:30","v":60.9},{"s":"Bear power","t":"2025-07-09 18:00","v":60.9},{"s":"Bear power","t":"2025-07-09 18:15","v":56.3},{"s":"Bear power","t":"2025-07-09 18:30","v":51.7},{"s":"Bear power","t":"2025-07-09 18:45","v":51.4},{"s":"Bear power","t":"2025-07-09 19:00","v":46.7},{"s":"Bear power","t":"2025-07-09 19:15","v":42.4},{"s":"Bear power","t":"2025-07-09 19:30","v":43},{"s":"Bear power","t":"2025-07-09 19:45","v":43.8},{"s":"Bear power","t":"2025-07-09 20:00","v":45.3},{"s":"Bear power","t":"2025-07-09 20:15","v":52.2},{"s":"Bear power","t":"2025-07-09 20:30","v":47.9},{"s":"Bear power","t":"2025-07-09 20:45","v":52.2},{"s":"Bear power","t":"2025-07-09 21:00","v":50.5},{"s":"Bear power","t":"2025-07-09 21:15","v":53.1},{"s":"Bear power","t":"2025-07-09 21:30","v":57.7},{"s":"Bear power","t":"2025-07-09 22:00","v":57.1},{"s":"Bear power","t":"2025-07-09 22:15","v":57.1},{"s":"Bear power","t":"2025-07-09 22:30","v":62.1},{"s":"Bear power","t":"2025-07-09 22:45","v":65},{"s":"Bear power","t":"2025-07-09 23:00","v":64.7},{"s":"Bear power","t":"2025-07-09 23:15","v":65.3},{"s":"Bear power","t":"2025-07-09 23:30","v":65.9},{"s":"Bear power","t":"2025-07-09 23:45","v":65.7},
{"s":"Bear power","t":"2025-07-10 00:00","v":60.4},{"s":"Bear power","t":"2025-07-10 00:15","v":62.4},{"s":"Bear power","t":"2025-07-10 00:45","v":62.4},{"s":"Bear power","t":"2025-07-10 01:00","v":63},{"s":"Bear power","t":"2025-07-10 01:15","v":63.2},{"s":"Bear power","t":"2025-07-10 01:30","v":67.6},{"s":"Bear power","t":"2025-07-10 01:45","v":68.2},{"s":"Bear power","t":"2025-07-10 02:00","v":69.9},{"s":"Bear power","t":"2025-07-10 02:15","v":71.4},{"s":"Bear power","t":"2025-07-10 02:30","v":71.4},{"s":"Bear power","t":"2025-07-10 02:45","v":76},{"s":"Bear power","t":"2025-07-10 03:00","v":72.2},{"s":"Bear power","t":"2025-07-10 03:15","v":66.1},{"s":"Bear power","t":"2025-07-10 03:30","v":65.3},{"s":"Bear power","t":"2025-07-10 03:45","v":61.8},{"s":"Bear power","t":"2025-07-10 04:00","v":56.6},{"s":"Bear power","t":"2025-07-10 04:15","v":51.4},{"s":"Bear power","t":"2025-07-10 04:30","v":46.4},{"s":"Bear power","t":"2025-07-10 04:45","v":49},{"s":"Bear power","t":"2025-07-10 05:00","v":43},{"s":"Bear power","t":"2025-07-10 05:15","v":38},{"s":"Bear power","t":"2025-07-10 05:30","v":34.3},{"s":"Bear power","t":"2025-07-10 06:00","v":34.3},{"s":"Bear power","t":"2025-07-10 06:15","v":34.9},{"s":"Bear power","t":"2025-07-10 06:30","v":40.4},{"s":"Bear power","t":"2025-07-10 06:45","v":45.6},{"s":"Bear power","t":"2025-07-10 07:00","v":45.6},{"s":"Bear power","t":"2025-07-10 07:15","v":45.2},{"s":"Bear power","t":"2025-07-10 07:30","v":45},{"s":"Bear power","t":"2025-07-10 07:45","v":45},{"s":"Bear power","t":"2025-07-10 08:00","v":43.2},{"s":"Bear power","t":"2025-07-10 08:15","v":41.8},{"s":"Bear power","t":"2025-07-10 08:30","v":46.4},{"s":"Bear power","t":"2025-07-10 08:45","v":45.8},{"s":"Bear power","t":"2025-07-10 09:00","v":50.5},{"s":"Bear power","t":"2025-07-10 09:15","v":46},{"s":"Bear power","t":"2025-07-10 09:30","v":44.7},{"s":"Bear power","t":"2025-07-10 09:45","v":40.4},{"s":"Bear power","t":"2025-07-10 10:00","v":40.7},{"s":"Bear power","t":"2025-07-10 10:30","v":41.5},{"s":"Bear power","t":"2025-07-10 10:45","v":45.3},{"s":"Bear power","t":"2025-07-10 11:00","v":44.9},{"s":"Bear power","t":"2025-07-10 11:15","v":44.7},{"s":"Bear power","t":"2025-07-10 11:30","v":49.9},{"s":"Bear power","t":"2025-07-10 11:45","v":54.6},{"s":"Bear power","t":"2025-07-10 12:15","v":54.3},{"s":"Bear power","t":"2025-07-10 12:30","v":53.7},{"s":"Bear power","t":"2025-07-10 12:45","v":59.8},{"s":"Bear power","t":"2025-07-10 13:00","v":54},{"s":"Bear power","t":"2025-07-10 13:30","v":53.7},{"s":"Bear power","t":"2025-07-10 13:45","v":49},{"s":"Bear power","t":"2025-07-10 14:00","v":48.5},{"s":"Bear power","t":"2025-07-10 14:15","v":48.2},{"s":"Bear power","t":"2025-07-10 14:30","v":47.9},{"s":"Bear power","t":"2025-07-10 14:45","v":52.3},{"s":"Bear power","t":"2025-07-10 15:15","v":52.3},{"s":"Bear power","t":"2025-07-10 15:30","v":53.7},{"s":"Bear power","t":"2025-07-10 15:45","v":58.3},{"s":"Bear power","t":"2025-07-10 16:15","v":59.8},{"s":"Bear power","t":"2025-07-10 16:30","v":65},{"s":"Bear power","t":"2025-07-10 16:45","v":65},{"s":"Bear power","t":"2025-07-10 17:00","v":60.4},{"s":"Bear power","t":"2025-07-10 17:30","v":60.1},{"s":"Bear power","t":"2025-07-10 17:45","v":55.7},{"s":"Bear power","t":"2025-07-10 18:00","v":55.4},{"s":"Bear power","t":"2025-07-10 18:15","v":50.8},{"s":"Bear power","t":"2025-07-10 18:30","v":46.5},{"s":"Bear power","t":"2025-07-10 18:45","v":42},{"s":"Bear power","t":"2025-07-10 19:00","v":37},{"s":"Bear power","t":"2025-07-10 19:15","v":32},{"s":"Bear power","t":"2025-07-10 19:30","v":26},{"s":"Bear power","t":"2025-07-10 19:45","v":20.5},{"s":"Bear power","t":"2025-07-10 20:00","v":14.6},{"s":"Bear power","t":"2025-07-10 20:15","v":20},{"s":"Bear power","t":"2025-07-10 20:30","v":25.5},{"s":"Bear power","t":"2025-07-10 20:45","v":30.8},
{"s":"Bear power","t":"2025-07-12 21:00","v":30.1},{"s":"Bear power","t":"2025-07-12 21:15","v":35},{"s":"Bear power","t":"2025-07-12 21:30","v":40.1},{"s":"Bear power","t":"2025-07-12 21:45","v":39.8},{"s":"Bear power","t":"2025-07-12 22:00","v":39.5},{"s":"Bear power","t":"2025-07-12 22:15","v":44.7},{"s":"Bear power","t":"2025-07-12 22:30","v":44.1},{"s":"Bear power","t":"2025-07-12 22:45","v":49.9},{"s":"Bear power","t":"2025-07-12 23:00","v":54.6},{"s":"Bear power","t":"2025-07-12 23:15","v":58.6},{"s":"Bear power","t":"2025-07-12 23:30","v":58.6},{"s":"Bear power","t":"2025-07-12 23:45","v":59.5},{"s":"Bear power","t":"2025-07-13 00:00","v":54.3},{"s":"Bear power","t":"2025-07-13 00:15","v":54},{"s":"Bear power","t":"2025-07-13 00:30","v":53.4},{"s":"Bear power","t":"2025-07-13 00:45","v":54},{"s":"Bear power","t":"2025-07-13 01:00","v":49},{"s":"Bear power","t":"2025-07-13 01:15","v":54.3},{"s":"Bear power","t":"2025-07-13 01:30","v":58.9},{"s":"Bear power","t":"2025-07-13 01:45","v":59.5},{"s":"Bear power","t":"2025-07-13 02:00","v":58.9},{"s":"Bear power","t":"2025-07-13 02:15","v":59.5},{"s":"Bear power","t":"2025-07-13 02:30","v":60.1},{"s":"Bear power","t":"2025-07-13 02:45","v":54.9},{"s":"Bear power","t":"2025-07-13 03:00","v":54.9},{"s":"Bear power","t":"2025-07-13 03:15","v":59.2},{"s":"Bear power","t":"2025-07-13 03:30","v":59.5},{"s":"Bear power","t":"2025-07-13 03:45","v":63.8},{"s":"Bear power","t":"2025-07-13 04:00","v":64.1},{"s":"Bear power","t":"2025-07-13 04:30","v":63.2},{"s":"Bear power","t":"2025-07-13 05:00","v":63.2},{"s":"Bear power","t":"2025-07-13 05:15","v":58.9},{"s":"Bear power","t":"2025-07-13 05:30","v":63.8},{"s":"Bear power","t":"2025-07-13 05:45","v":59.5},{"s":"Bear power","t":"2025-07-13 06:00","v":59.8},{"s":"Bear power","t":"2025-07-13 06:15","v":65.3},{"s":"Bear power","t":"2025-07-13 06:30","v":65.3},{"s":"Bear power","t":"2025-07-13 06:45","v":60.9},{"s":"Bear power","t":"2025-07-13 07:15","v":62.1},{"s":"Bear power","t":"2025-07-13 07:30","v":63},{"s":"Bear power","t":"2025-07-13 07:45","v":63.8},{"s":"Bear power","t":"2025-07-13 08:00","v":68.8},{"s":"Bear power","t":"2025-07-13 08:15","v":64.4},{"s":"Bear power","t":"2025-07-13 08:30","v":65},{"s":"Bear power","t":"2025-07-13 08:45","v":64.1},{"s":"Bear power","t":"2025-07-13 09:00","v":58.9},{"s":"Bear power","t":"2025-07-13 09:15","v":58.3},{"s":"Bear power","t":"2025-07-13 09:30","v":53.7},{"s":"Bear power","t":"2025-07-13 09:45","v":53.7},{"s":"Bear power","t":"2025-07-13 10:00","v":58.3},{"s":"Bear power","t":"2025-07-13 10:15","v":58.3},{"s":"Bear power","t":"2025-07-13 10:30","v":58.9},{"s":"Bear power","t":"2025-07-13 11:00","v":54.3},{"s":"Bear power","t":"2025-07-13 11:30","v":54.3},{"s":"Bear power","t":"2025-07-13 11:45","v":53.7},{"s":"Bear power","t":"2025-07-13 12:00","v":50.5},{"s":"Bear power","t":"2025-07-13 12:15","v":55.4},{"s":"Bear power","t":"2025-07-13 12:30","v":59}
    ], "format": {"parse": {"t": "date:'%Y-%m-%d %H:%M'"}}},
    "mark": {"type": "line", "strokeWidth": 2.2, "strokeJoin": "round"},
    "encoding": {
      "x": {"field": "t", "type": "temporal", "title": "Time",
        "scale": {"domain": [{"year": 2025, "month": 7, "date": 9, "hours": 0, "minutes": 36}, {"year": 2025, "month": 7, "date": 13, "hours": 17, "minutes": 48}], "nice": false},
        "axis": {"format": "%m-%d %H", "formatType": "time", "grid": true, "labelPadding": 4, "titlePadding": 6,
          "values": [{"year": 2025, "month": 7, "date": 9, "hours": 12}, {"year": 2025, "month": 7, "date": 10, "hours": 0}, {"year": 2025, "month": 7, "date": 10, "hours": 12}, {"year": 2025, "month": 7, "date": 11, "hours": 0}, {"year": 2025, "month": 7, "date": 11, "hours": 12}, {"year": 2025, "month": 7, "date": 12, "hours": 0}, {"year": 2025, "month": 7, "date": 12, "hours": 12}, {"year": 2025, "month": 7, "date": 13, "hours": 0}, {"year": 2025, "month": 7, "date": 13, "hours": 12}]}},
      "y": {"field": "v", "type": "quantitative", "title": "Score",
        "scale": {"domain": [0, 100], "nice": false, "zero": false},
        "axis": {"values": [0, 20, 40, 60, 80, 100], "grid": true, "labelPadding": 6.5, "titlePadding": 6}},
      "color": {"field": "s", "type": "nominal", "sort": null,
        "scale": {"domain": ["ADX", "+DI", "-DI", "Bull power", "Bear power"], "range": ["#1f77b4", "#ff7f0e", "#2ca02c", "#d62728", "#9467bd"]},
        "legend": {"title": null, "orient": "top-right", "offset": 8, "symbolType": "M-2,0H2", "symbolSize": 272, "symbolStrokeWidth": 2.3, "symbolOffset": 7, "labelOffset": 20, "rowPadding": 2.7, "padding": 5, "strokeColor": "#cccccc", "fillColor": "rgba(255,255,255,0.8)", "cornerRadius": 4}},
      "order": {"field": "t", "type": "temporal"}
    }
  },
  {
    "data": {"values": [{"level": 45}, {"level": 25}]},
    "mark": {"type": "rule", "color": "#1f77b4", "strokeWidth": 1.5, "strokeDash": [8, 3.5]},
    "encoding": {"y": {"field": "level", "type": "quantitative"}}
  },
  {
    "data": {"values": [{"label": "HorusSignals"}]},
    "mark": {"type": "text", "font": "DejaVu Sans", "fontSize": 105, "angle": 19, "align": "center", "baseline": "middle", "fill": "#ffffff", "fillOpacity": 0.45, "stroke": "#b9b9b9", "strokeWidth": 1.6},
    "encoding": {
      "text": {"field": "label"},
      "x": {"datum": {"year": 2025, "month": 7, "date": 11, "hours": 6, "minutes": 30}, "type": "temporal"},
      "y": {"datum": 43.3, "type": "quantitative"}
    }
  }
]
}
